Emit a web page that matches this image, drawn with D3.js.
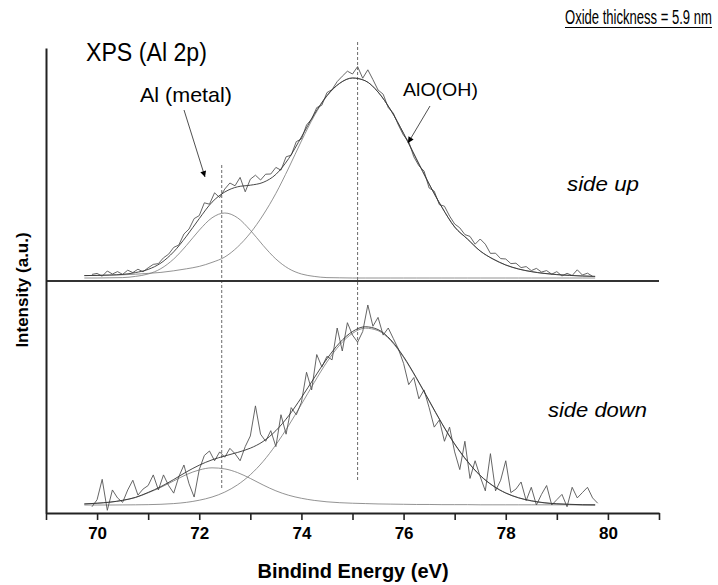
<!DOCTYPE html>
<html><head><meta charset="utf-8">
<script src="https://cdn.jsdelivr.net/npm/d3@7/dist/d3.min.js"></script>
<style>
html,body{margin:0;padding:0;background:#fff;}
svg{display:block;font-family:Arial,"Liberation Sans",Helvetica,sans-serif;}
</style>
</head><body>
<svg id="chart" width="718" height="585"></svg>
<script>
// ---------- data ----------
const fitEnergy = [69.75,70.0,70.25,70.5,70.75,71.0,71.25,71.5,71.75,72.0,72.25,72.5,72.75,73.0,73.25,73.5,73.75,74.0,74.25,74.5,74.75,75.0,75.25,75.5,75.75,76.0,76.25,76.5,76.75,77.0,77.25,77.5,77.75,78.0,78.25,78.5,78.75,79.0,79.25,79.5,79.75];

// side up: fitted components and envelope
const topOxide = [1.2,1.3,1.4,1.6,1.9,2.3,2.8,3.6,4.6,5.8,7.8,10.5,15.5,22.5,31.5,42.3,55,68.5,81,91,97.3,100,98.6,93,83.9,72.3,59.6,47,35.4,25.5,19.5,13.5,9.5,6.5,4.5,3.2,2.3,1.7,1.3,1.0,0.8];
const topMetal = [0,0,0.1,0.2,0.8,2.0,4.7,9.5,16.3,23.9,30.1,32.5,30.1,23.9,16.3,9.5,4.7,2.0,0.8,0.2,0.1,0,0,0,0,0,0,0,0,0,0,0,0,0,0,0,0,0,0,0,0];
const topTotal = [1.2,1.3,1.5,1.8,2.7,4.3,7.5,13.1,20.9,29.7,37.9,43.0,45.6,46.4,47.8,51.8,59.7,70.5,81.8,91.2,97.4,100,98.6,93,83.9,72.3,59.6,47,35.4,25.5,19.5,13.5,9.5,6.5,4.5,3.2,2.3,1.7,1.3,1.0,0.8];

// side down: fitted components and envelope
const botOxide = [0,0,0,0.05,0.1,0.2,0.4,0.8,1.5,2.7,4.5,7.3,11.4,17.1,24.6,34,44.9,56.9,69.2,80.8,90.4,97,99.9,98.5,92.8,83.4,71.6,58.7,45.9,34.3,24.5,16.6,10.8,6.7,4.0,2.3,1.2,0.6,0.3,0.15,0.07];
const botMetal = [0.6,1.0,1.6,2.6,4.2,6.9,10.0,13.6,17.2,19.8,21.0,20.4,18.3,15.0,11.3,8.0,5.5,3.8,2.6,1.8,1.3,1.0,0.8,0.6,0.5,0.4,0.3,0.3,0.2,0.2,0.2,0.1,0.1,0.1,0.1,0.1,0.1,0.1,0.1,0,0];
const botTotal = [0.6,1.0,1.6,2.65,4.3,7.1,10.4,14.4,18.7,22.5,25.5,27.7,29.7,32.1,35.9,42.0,50.4,60.7,71.8,82.6,91.7,98.0,100.7,99.1,93.3,83.8,71.9,59.0,46.1,34.5,24.7,16.7,10.9,6.8,4.1,2.4,1.3,0.7,0.4,0.15,0.07];

// measured spectra
const dataEnergy = [69.9,70.0,70.1,70.2,70.3,70.4,70.5,70.6,70.7,70.8,70.9,71.0,71.1,71.2,71.3,71.4,71.5,71.6,71.7,71.8,71.9,72.0,72.1,72.2,72.3,72.4,72.5,72.6,72.7,72.8,72.9,73.0,73.1,73.2,73.3,73.4,73.5,73.6,73.7,73.8,73.9,74.0,74.1,74.2,74.3,74.4,74.5,74.6,74.7,74.8,74.9,75.0,75.1,75.2,75.3,75.4,75.5,75.6,75.7,75.8,75.9,76.0,76.1,76.2,76.3,76.4,76.5,76.6,76.7,76.8,76.9,77.0,77.1,77.2,77.3,77.4,77.5,77.6,77.7,77.8,77.9,78.0,78.1,78.2,78.3,78.4,78.5,78.6,78.7,78.8,78.9,79.0,79.1,79.2,79.3,79.4,79.5,79.6,79.7,79.8];
const topData = [1.8,2.3,0.9,3.5,2.0,3.2,1.8,3.9,2.7,4.4,3.1,5.1,6.8,7.2,10.1,11.9,15.3,16.5,22.0,24.5,29.7,31.2,37.6,36.9,42.6,40.2,44.5,47.5,46.1,50.3,43.1,49.4,51.4,49.0,51.9,52.0,55.3,53.9,60.6,61.4,68.2,69.5,76.5,79.5,85.2,86.4,92.7,94.2,98.2,100.9,103.4,102,105.7,99.9,104.1,99.2,94,91.9,85.2,82.4,76.4,71.3,68.2,60.6,56.1,53.5,45.0,43.4,36.7,35.9,31.0,27.0,25.1,21.7,20.8,16.9,19.5,16.9,12.3,12.4,9.7,9.5,7.2,7.4,5.2,5.7,3.7,4.8,3.0,3.7,1.9,3.2,1.0,2.35,1.25,4.1,1.5,2.4,0.85];
const botData = [-1,3,14.5,-3,8.5,4,1.5,8.5,14,5.6,9,11,17,8.5,17,11,6.7,16,22.6,12,4.5,20,28,30.5,25,30,27,32,29,25,33,39,56,40,36,42,33,51,40,55,51,58,75,65,85,78,84,82,100,87,103,96,92,98,113,101,106,96,100,94,88,80,68,72,60,65,55,44,48,36,44,30,20,36,15,25,16,8,29,8,14,25,7,9,13,2.5,10,0,6,11,0,3,6,-1,10,4,7,10,4,1];

// axis ticks and labels
const xTickValues = [69,70,71,72,73,74,75,76,77,78,79,80,81];
const xTickLabels = ["","70","","72","","74","","76","","78","","80",""];
const peakPositions = [72.44, 75.1];   // Al (metal), AlO(OH)

// ---------- drawing ----------
const svg = d3.select("#chart");
const x = d3.scaleLinear().domain([69, 81]).range([46, 659]);
const yTop = d3.scaleLinear().domain([0, 100]).range([278, 78]);
const yBot = d3.scaleLinear().domain([0, 100]).range([505, 328]);
const yFrame = d3.scaleLinear().domain([0, 1]).range([513, 48]);

// dashed peak markers
svg.append("line").attr("x1", x(peakPositions[0])).attr("x2", x(peakPositions[0]))
  .attr("y1", 165).attr("y2", 488)
  .attr("stroke", "#444").attr("stroke-width", 0.8).attr("stroke-dasharray", "3,2");
svg.append("line").attr("x1", x(peakPositions[1])).attr("x2", x(peakPositions[1]))
  .attr("y1", 42).attr("y2", 480)
  .attr("stroke", "#444").attr("stroke-width", 0.8).attr("stroke-dasharray", "3,2");

function drawFit(vals, yScale, color, w) {
  const line = d3.line().x((d, i) => x(fitEnergy[i])).y(d => yScale(d)).curve(d3.curveMonotoneX);
  svg.append("path").datum(vals).attr("d", line).attr("fill", "none")
    .attr("stroke", color).attr("stroke-width", w);
}
function drawData(vals, yScale) {
  const line = d3.line().x((d, i) => x(dataEnergy[i])).y(d => yScale(d));
  svg.append("path").datum(vals).attr("d", line).attr("fill", "none")
    .attr("stroke", "#555").attr("stroke-width", 0.9);
}

drawFit(topOxide, yTop, "#777", 0.8);
drawFit(topMetal, yTop, "#777", 0.8);
drawData(topData, yTop);
drawFit(topTotal, yTop, "#333", 0.9);

drawFit(botOxide, yBot, "#777", 0.8);
drawFit(botMetal, yBot, "#777", 0.8);
drawData(botData, yBot);
drawFit(botTotal, yBot, "#333", 0.9);

// panel divider
svg.append("line").attr("x1", 46).attr("x2", 659).attr("y1", 281).attr("y2", 281)
  .attr("stroke", "#333").attr("stroke-width", 2);

// left axis (frame only)
const yAxis = svg.append("g").attr("transform", "translate(46,0)")
  .call(d3.axisLeft(yFrame).tickValues([]).tickSizeOuter(0));
yAxis.select(".domain").attr("stroke", "#222").attr("stroke-width", 2);

// bottom axis
const xAxis = svg.append("g").attr("transform", "translate(0,513)")
  .call(d3.axisBottom(x).tickValues(xTickValues).tickSize(7).tickSizeOuter(0)
    .tickFormat((d, i) => xTickLabels[i]));
xAxis.select(".domain").attr("stroke", "#222").attr("stroke-width", 2);
xAxis.selectAll(".tick line").attr("stroke", "#222").attr("stroke-width", 1.6);
xAxis.selectAll(".tick text").attr("y", 14).attr("dy", "0.71em")
  .attr("font-size", 17).attr("font-weight", "bold").attr("fill", "#000")
  .attr("font-family", "Arial, 'Liberation Sans', sans-serif");

// axis titles
svg.append("text").attr("x", 353).attr("y", 578).attr("text-anchor", "middle")
  .attr("font-size", 20).attr("font-weight", "bold").text("Bindind Energy (eV)");
svg.append("text").attr("transform", "translate(28,290) rotate(-90)").attr("text-anchor", "middle")
  .attr("font-size", 17).attr("font-weight", "bold").text("Intensity (a.u.)");

// condensed label helper: squeezes text horizontally to a given width via a transform
function condensed(txt, x0, y0, size, width, italic) {
  const t = svg.append("text").attr("x", 0).attr("y", 0).attr("font-size", size)
    .attr("font-style", italic ? "italic" : "normal").text(txt);
  const natural = t.node().getComputedTextLength();
  t.attr("transform", `translate(${x0},${y0}) scale(${width / natural},1)`);
  return t;
}

// labels
condensed("Oxide thickness = 5.9 nm", 565, 24, 20, 147, false);
svg.append("line").attr("x1", 565).attr("x2", 712).attr("y1", 27.5).attr("y2", 27.5)
  .attr("stroke", "#000").attr("stroke-width", 1);

condensed("XPS (Al 2p)", 86, 61, 25, 121, false);
condensed("Al (metal)", 140, 102, 20, 92, false);
condensed("AlO(OH)", 403, 96, 19, 75, false);
condensed("side up", 567, 191, 20, 72, true);
condensed("side down", 548, 417, 20, 99, true);

// arrows
const defs = svg.append("defs");
defs.append("marker").attr("id", "arrow").attr("viewBox", "0 0 10 10")
  .attr("refX", 10).attr("refY", 5).attr("markerWidth", 10).attr("markerHeight", 6)
  .attr("markerUnits", "userSpaceOnUse").attr("orient", "auto")
  .append("path").attr("d", "M0,0 L10,5 L0,10 Z").attr("fill", "#000");
svg.append("line").attr("x1", 184).attr("y1", 110).attr("x2", 205).attr("y2", 177)
  .attr("stroke", "#222").attr("stroke-width", 0.8).attr("marker-end", "url(#arrow)");
svg.append("line").attr("x1", 430).attr("y1", 106).attr("x2", 408).attr("y2", 143)
  .attr("stroke", "#222").attr("stroke-width", 0.8).attr("marker-end", "url(#arrow)");
</script>
</body></html>
